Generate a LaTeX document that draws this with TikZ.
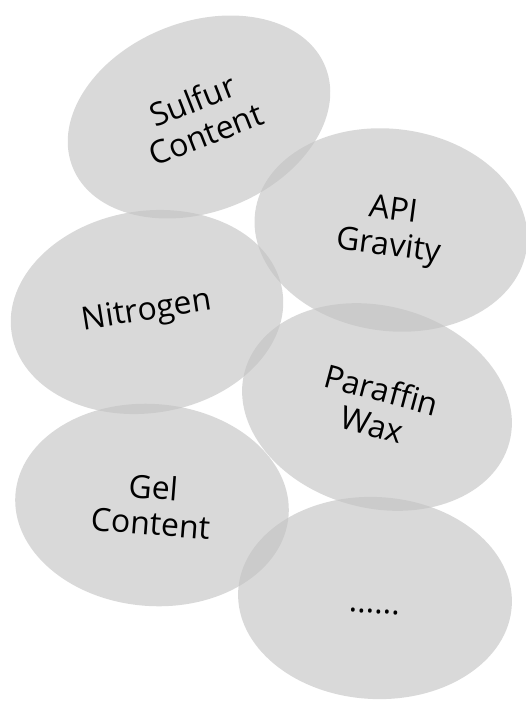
\documentclass[tikz,border=0pt]{standalone}
\usepackage{fontspec}
\setmainfont{Open Sans}
\usetikzlibrary{shapes.geometric}
\tikzset{
  bubble/.style={ellipse, minimum width=274pt, minimum height=202pt,
    inner sep=0pt, fill={rgb,255:red,195;green,195;blue,195},
    fill opacity=0.63, text opacity=1, text=black, align=center,
    font=\fontsize{32}{36}\selectfont}
}
\begin{document}
\begin{tikzpicture}[x=1pt,y=-1pt]
  \useasboundingbox (0,0) rectangle (525,701);
  \node[bubble, rotate=21.5, minimum width=272pt, minimum height=190pt]
                             (sulfur)   at (199,117) {Sulfur\\Content};
  \node[bubble, rotate=-7.5] (api)      at (391,230) {API\\Gravity};
  \node[bubble, rotate=9]    (nitrogen) at (147,312) {Nitrogen};
  \node[bubble, rotate=-15]  (paraffin) at (377,407) {Paraffin\\Wax};
  \node[bubble, rotate=-4.5] (gel)      at (152,505) {Gel\\Content};
  \node[bubble, rotate=-3]   (more)     at (375,598)
    {\strut\smash{\raisebox{-8pt}{......}}};
\end{tikzpicture}
\end{document}
